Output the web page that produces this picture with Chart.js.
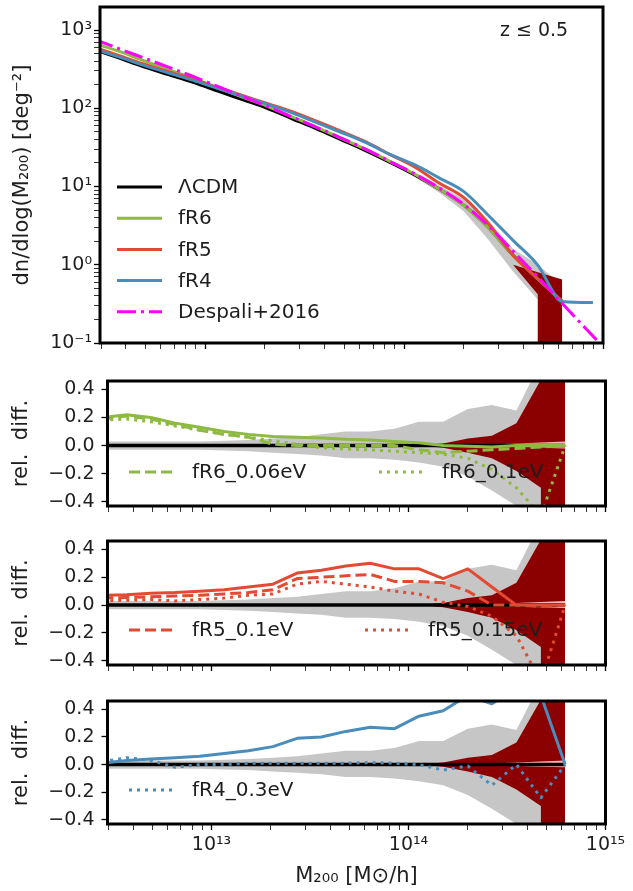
<!DOCTYPE html>
<html>
<head>
<meta charset="utf-8">
<title>Cluster mass function, z &le; 0.5</title>
<script src="https://cdn.jsdelivr.net/npm/chart.js@4.4.1/dist/chart.umd.min.js"></script>
<style>
  html, body { margin: 0; padding: 0; background: #fff; }
  body { position: relative; width: 633px; height: 891px; overflow: hidden; }
  canvas { position: absolute; left: 0; }
</style>
</head>
<body>
<canvas id="hmf" width="633" height="350" style="top:0px"></canvas>
<canvas id="relR6" width="633" height="140" style="top:374px"></canvas>
<canvas id="relR5" width="633" height="140" style="top:534px"></canvas>
<canvas id="relR4" width="633" height="197" style="top:694px"></canvas>
<script>
// ---- data: mass bins, M200 [Msun/h] ----
const massBins = [2.79e12, 3.71e12, 4.92e12, 6.55e12, 8.71e12, 1.16e13, 1.54e13, 2.05e13, 2.72e13, 3.61e13,
                  4.81e13, 6.40e13, 8.49e13, 1.13e14, 1.50e14, 2.00e14, 2.65e14, 3.53e14, 4.70e14, 6.24e14];
const massBinsFR4 = [2.79e12, 3.71e12, 4.92e12, 6.55e12, 8.71e12, 1.16e13, 1.54e13, 2.05e13, 2.72e13, 3.61e13,
                     4.81e13, 6.40e13, 8.49e13, 1.13e14, 1.50e14, 2.00e14, 2.65e14, 3.53e14, 4.70e14, 6.24e14, 8.90e14];
const massDespali = [2.79e12, 3.71e12, 4.92e12, 6.55e12, 8.71e12, 1.16e13, 1.54e13, 2.05e13, 2.72e13, 3.61e13,
                     4.81e13, 6.40e13, 8.49e13, 1.13e14, 1.50e14, 2.00e14, 2.65e14, 3.53e14, 4.70e14, 6.24e14, 8.30e14, 1.05e15];

// top panel: dn/dlog(M200) [deg^-2]
const nLCDM   = [562, 437, 339, 269, 214, 166, 129, 100, 74, 55, 39.8, 28.8, 20.4, 14.1, 9.3, 5.75, 3.0, 1.32, 0.66, 0.34];
const nFR6    = [674, 533, 407, 312, 242, 183, 139, 106.5, 78.4, 58, 41.6, 30, 21, 14.4, 9.3, 5.72, 2.97, 1.32, 0.66, 0.34];
const nFR5    = [601, 470, 368, 293, 235, 184, 146, 115, 91, 68.8, 51, 37.4, 25.7, 17.8, 11.1, 7.2, 3.4, 1.32, 0.66, 0.34];
const nFR4    = [568, 450, 353, 282, 227, 179, 142, 113, 88, 66, 49.4, 36.6, 25.7, 19.0, 12.9, 8.6, 4.3, 2.05, 0.99, 0.34, 0.33];
const nDespali = [760, 575, 440, 335, 255, 190, 142, 106, 78, 57.5, 42, 30, 21, 14.5, 9.6, 5.9, 3.15, 1.5, 0.7, 0.32, 0.148, 0.079];

// top panel error bands
const topGrayMass = [8.49e13, 1.13e14, 1.50e14, 2.00e14, 2.65e14, 3.53e14, 4.70e14, 6.24e14];
const topGrayHi   = [21.5, 15.2, 10.4, 6.9, 3.7, 1.6, 1.0, 0.55];
const topGrayLo   = [19.8, 13.3, 8.4, 4.8, 2.1, 0.82, 0.36, 0.12];
const topRedMass  = [3.53e14, 4.70e14, 4.70e14, 6.24e14];
const topRedHi    = [1.0, 0.80, 0.80, 0.65];
const topRedLo    = [1.0, 0.42, 0.005, 0.005];

// relative difference panels
const relLCDM  = [0, 0, 0, 0, 0, 0, 0, 0, 0, 0, 0, 0, 0, 0, 0, 0, 0, 0, 0, 0];
const grayHi   = [0.03, 0.03, 0.03, 0.03, 0.03, 0.035, 0.04, 0.05, 0.06, 0.08, 0.10, 0.10, 0.12, 0.17, 0.17, 0.26, 0.29, 0.25, 0.6, 0.6];
const grayLo   = [-0.03, -0.03, -0.03, -0.03, -0.03, -0.035, -0.04, -0.05, -0.06, -0.07, -0.09, -0.09, -0.10, -0.12, -0.15, -0.22, -0.32, -0.43, -0.7, -0.7];
const redMass  = [1.13e14, 1.50e14, 2.00e14, 2.65e14, 3.53e14, 4.70e14, 4.70e14, 6.24e14];
const redHi    = [0, 0.015, 0.05, 0.07, 0.16, 0.47, 0.47, 1.0];
const redLo    = [0, -0.015, -0.05, -0.09, -0.18, -0.3, -1.0, -1.0];
const pinkMass = [2.00e14, 2.65e14, 3.53e14, 4.70e14, 6.24e14];
const pinkHi   = [0, 0.008, 0.015, 0.022, 0.03];
const pinkLo   = [0, -0.005, -0.01, -0.015, -0.02];

const relFR6      = [0.20, 0.22, 0.20, 0.16, 0.13, 0.10, 0.08, 0.065, 0.06, 0.055, 0.045, 0.04, 0.03, 0.02, 0.0, -0.005, -0.01, 0.0, 0.0, 0.0];
const relFR6_006  = [0.19, 0.21, 0.19, 0.15, 0.11, 0.08, 0.06, 0.01, 0.0, 0.0, 0.0, 0.0, 0.0, -0.03, -0.05, -0.04, -0.03, -0.02, -0.01, 0.0];
const relFR6_01   = [0.18, 0.19, 0.17, 0.14, 0.11, 0.08, 0.06, 0.035, 0.01, -0.015, -0.025, -0.03, -0.04, -0.05, -0.06, -0.09, -0.17, -0.30, -0.50, 0.0];
const relFR5      = [0.07, 0.075, 0.085, 0.09, 0.10, 0.11, 0.13, 0.15, 0.23, 0.25, 0.28, 0.30, 0.26, 0.26, 0.19, 0.26, 0.13, 0.0, 0.0, 0.0];
const relFR5_01   = [0.05, 0.055, 0.06, 0.065, 0.07, 0.08, 0.09, 0.11, 0.19, 0.20, 0.21, 0.22, 0.17, 0.17, 0.16, 0.10, 0.0, 0.0, -0.01, 0.0];
const relFR5_015  = [0.03, 0.035, 0.04, 0.03, 0.04, 0.05, 0.07, 0.08, 0.15, 0.17, 0.15, 0.13, 0.10, 0.08, 0.02, -0.01, -0.08, -0.22, -0.55, 0.0];
const relFR4      = [0.01, 0.03, 0.04, 0.05, 0.06, 0.08, 0.10, 0.13, 0.19, 0.20, 0.24, 0.27, 0.26, 0.35, 0.39, 0.5, 0.44, 0.55, 0.5, 0.0];
const relFR4_03   = [0.02, 0.05, 0.03, -0.02, 0.0, 0.0, 0.01, 0.01, 0.01, 0.01, 0.01, 0.015, 0.01, 0.0, -0.04, -0.01, -0.15, 0.0, -0.24, 0.0];

// axes
const xMin = 2.965e12, xMax = 1.0e15;
const xMajorTicks = [1e13, 1e14, 1e15];
const xMajorLabels = ['10\u00b9\u00b3', '10\u00b9\u2074', '10\u00b9\u2075'];
const yTopTicks = [0.1, 1, 10, 100, 1000];
const yTopLabels = ['10\u207b\u00b9', '10\u2070', '10\u00b9', '10\u00b2', '10\u00b3'];
const relTicks = [-0.4, -0.2, 0, 0.2, 0.4];
const relTickLabels = ['\u22120.4', '\u22120.2', '0.0', '0.2', '0.4'];

const C = { lcdm: '#000000', fR6: '#8EBA42', fR5: '#E24A33', fR4: '#4A8CBA', despali: '#FF00FF',
            gray: '#c6c6c6', darkred: '#8B0000', pink: '#FFB5B8' };
const FONT = 'DejaVu Sans';
const TXT = '#1e1e1e';
const DASH = [11, 5], DOT = [3, 5], DASHDOT = [19, 5, 3, 5];

// ---- helpers ----
function pts(xs, ys) { return xs.map((x, i) => ({ x: x, y: ys[i] })); }

function line(label, xs, ys, color, width, dash, order, smooth) {
  return { label: label, data: pts(xs, ys), borderColor: color, borderWidth: width,
           borderDash: dash || [], fill: false, pointRadius: 0, order: order,
           cubicInterpolationMode: smooth ? 'monotone' : 'default' };
}

function band(xs, hi, lo, color, order) {
  return [
    { label: '', data: pts(xs, hi), borderWidth: 0, borderColor: 'rgba(0,0,0,0)',
      backgroundColor: color, fill: '+1', pointRadius: 0, order: order },
    { label: '', data: pts(xs, lo), borderWidth: 0, borderColor: 'rgba(0,0,0,0)',
      fill: false, pointRadius: 0, order: order }
  ];
}

function isDecade(v) { const l = Math.log10(v); return Math.abs(l - Math.round(l)) < 1e-9; }

function logTicks(lo, hi) {
  const out = [];
  for (let e = Math.floor(Math.log10(lo)); e <= Math.ceil(Math.log10(hi)); e++) {
    for (let m = 1; m <= 9; m++) {
      const v = m * Math.pow(10, e);
      if (v >= lo * 0.999 && v <= hi * 1.001) out.push(v);
    }
  }
  return out;
}

const frame = {
  id: 'frame',
  afterDatasetsDraw(chart) {
    const { ctx, chartArea: a } = chart;
    ctx.save();
    ctx.lineWidth = 3;
    ctx.strokeStyle = '#000';
    ctx.strokeRect(a.left, a.top, a.right - a.left, a.bottom - a.top);
    ctx.restore();
  }
};

const boxLegend = {
  id: 'boxLegend',
  afterDatasetsDraw(chart, args, opts) {
    if (!opts || !opts.items) return;
    const ctx = chart.ctx;
    ctx.save();
    ctx.font = opts.size + 'px "' + FONT + '"';
    ctx.textBaseline = 'middle';
    opts.items.forEach(it => {
      const ds = chart.data.datasets.find(d => d.label === it.label);
      ctx.strokeStyle = ds.borderColor;
      ctx.lineWidth = ds.borderWidth;
      ctx.lineCap = 'butt';
      ctx.setLineDash(ds.borderDash || []);
      ctx.beginPath();
      ctx.moveTo(it.x, it.y);
      ctx.lineTo(it.x + opts.sample, it.y);
      ctx.stroke();
      ctx.setLineDash([]);
      ctx.fillStyle = TXT;
      ctx.fillText(it.label, it.x + opts.sample + opts.gap, it.y + 1);
    });
    ctx.restore();
  }
};

const notes = {
  id: 'notes',
  afterDatasetsDraw(chart, args, opts) {
    if (!opts || !opts.items) return;
    const ctx = chart.ctx;
    ctx.save();
    ctx.fillStyle = TXT;
    ctx.textBaseline = 'middle';
    opts.items.forEach(n => {
      ctx.font = n.size + 'px "' + FONT + '"';
      ctx.fillText(n.text, n.x, n.y);
    });
    ctx.restore();
  }
};

function xAxis(showLabels, height) {
  return {
    type: 'logarithmic', min: xMin, max: xMax,
    afterBuildTicks: s => { s.ticks = logTicks(xMin, xMax).map(v => ({ value: v })); },
    afterFit: s => { s.height = height; s.paddingLeft = 0; s.paddingRight = 0; },
    border: { display: false },
    grid: { drawOnChartArea: false, drawTicks: true, tickLength: 6, color: '#000', tickColor: '#000',
            tickWidth: c => (c.tick && isDecade(c.tick.value)) ? 1.3 : 0.8 },
    ticks: { display: showLabels, autoSkip: false, maxRotation: 0, minRotation: 0, padding: 4,
             color: TXT, font: { family: FONT, size: 19 },
             callback: v => { const i = xMajorTicks.findIndex(t => Math.abs(t - v) / t < 1e-6); return i >= 0 ? xMajorLabels[i] : ''; } },
    title: { display: showLabels, text: 'M\u2082\u2080\u2080 [M\u2299/h]', color: TXT,
             font: { family: FONT, size: 21 }, padding: { top: 0, bottom: 2 } }
  };
}

function relAxis() {
  return {
    min: -0.43, max: 0.46,
    afterBuildTicks: s => { s.ticks = relTicks.map(v => ({ value: v })); },
    afterFit: s => { s.width = 107.5; s.paddingTop = 0; s.paddingBottom = 0; },
    border: { display: false },
    grid: { drawOnChartArea: false, drawTicks: true, tickLength: 6, color: '#000', tickColor: '#000', tickWidth: 1.3 },
    ticks: { autoSkip: false, padding: 7, color: TXT, font: { family: FONT, size: 19 },
             callback: v => { const i = relTicks.findIndex(t => Math.abs(t - v) < 1e-9); return i >= 0 ? relTickLabels[i] : ''; } },
    title: { display: true, text: 'rel.  diff.', color: TXT, font: { family: FONT, size: 21 }, padding: { top: 9, bottom: 0 } }
  };
}

function makeChart(id, datasets, scales, right, pluginOpts) {
  return new Chart(document.getElementById(id), {
    type: 'line',
    data: { datasets: datasets },
    options: {
      responsive: false, animation: false, events: [], devicePixelRatio: 1,
      layout: { padding: { top: 7, right: right, left: 0, bottom: 0 } },
      elements: { point: { radius: 0 }, line: { tension: 0, borderCapStyle: 'butt', borderJoinStyle: 'round' } },
      plugins: Object.assign({ legend: { display: false }, tooltip: { enabled: false } }, pluginOpts),
      scales: scales
    },
    plugins: [frame, boxLegend, notes]
  });
}

// ---- top panel ----
const topSets = [].concat(
  band(topGrayMass, topGrayHi, topGrayLo, C.gray, 20),
  [line('\u039bCDM', massBins, nLCDM, C.lcdm, 3, null, 9, true),
   line('fR6', massBins, nFR6, C.fR6, 3, null, 8, true),
   line('fR5', massBins, nFR5, C.fR5, 3, null, 7, true),
   line('fR4', massBinsFR4, nFR4, C.fR4, 3, null, 3, true),
   line('Despali+2016', massDespali, nDespali, C.despali, 3, DASHDOT, 2, true)],
  band(topRedMass, topRedHi, topRedLo, C.darkred, 15)
);
const topLegendLabels = ['\u039bCDM', 'fR6', 'fR5', 'fR4', 'Despali+2016'];

makeChart('hmf', topSets, {
  x: xAxis(false, 7),
  y: {
    type: 'logarithmic', min: 0.1, max: 1970,
    afterBuildTicks: s => { s.ticks = logTicks(0.1, 1970).map(v => ({ value: v })); },
    afterFit: s => { s.width = 100; s.paddingTop = 0; s.paddingBottom = 0; },
    border: { display: false },
    grid: { drawOnChartArea: false, drawTicks: true, tickLength: 6, color: '#000', tickColor: '#000',
            tickWidth: c => (c.tick && isDecade(c.tick.value)) ? 1.3 : 0.8 },
    ticks: { autoSkip: false, padding: 2, color: TXT, font: { family: FONT, size: 19 },
             callback: v => { const i = yTopTicks.findIndex(t => Math.abs(t - v) / t < 1e-6); return i >= 0 ? yTopLabels[i] : ''; } },
    title: { display: true, text: 'dn/dlog(M\u2082\u2080\u2080) [deg\u207b\u00b2]', color: TXT,
             font: { family: FONT, size: 21 }, padding: { top: 10, bottom: 0 } }
  }
}, 30, {
  boxLegend: { size: 20, sample: 45, gap: 16,
               items: topLegendLabels.map((l, i) => ({ label: l, x: 117, y: 187 + i * 31.2 })) },
  notes: { items: [{ text: 'z \u2264 0.5', x: 500, y: 31, size: 19 }] }
});

// ---- relative difference panels ----
function relSets(lines) {
  return [].concat(
    band(massBins, grayHi, grayLo, C.gray, 30),
    band(redMass, redHi, redLo, C.darkred, 25),
    band(pinkMass, pinkHi, pinkLo, C.pink, 22),
    [line('\u039bCDM', massBins, relLCDM, C.lcdm, 3.5, null, 10)],
    lines
  );
}

makeChart('relR6', relSets([
  line('fR6', massBins, relFR6, C.fR6, 3, null, 5),
  line('fR6_0.06eV', massBins, relFR6_006, C.fR6, 3, DASH, 4),
  line('fR6_0.1eV', massBins, relFR6_01, C.fR6, 3, DOT, 3)
]), { x: xAxis(false, 8), y: relAxis() }, 27.5, {
  boxLegend: { size: 20, sample: 46, gap: 17,
               items: [{ label: 'fR6_0.06eV', x: 129, y: 98 }, { label: 'fR6_0.1eV', x: 379, y: 98 }] }
});

makeChart('relR5', relSets([
  line('fR5', massBins, relFR5, C.fR5, 3, null, 5),
  line('fR5_0.1eV', massBins, relFR5_01, C.fR5, 3, DASH, 4),
  line('fR5_0.15eV', massBins, relFR5_015, C.fR5, 3, DOT, 3)
]), { x: xAxis(false, 9), y: relAxis() }, 27.5, {
  boxLegend: { size: 20, sample: 46, gap: 17,
               items: [{ label: 'fR5_0.1eV', x: 129, y: 96 }, { label: 'fR5_0.15eV', x: 365, y: 96 }] }
});

makeChart('relR4', relSets([
  line('fR4', massBins, relFR4, C.fR4, 3, null, 5),
  line('fR4_0.3eV', massBins, relFR4_03, C.fR4, 3, DOT, 3)
]), { x: xAxis(true, 67), y: relAxis() }, 27.5, {
  boxLegend: { size: 20, sample: 46, gap: 17,
               items: [{ label: 'fR4_0.3eV', x: 129, y: 96 }] }
});
</script>
</body>
</html>
